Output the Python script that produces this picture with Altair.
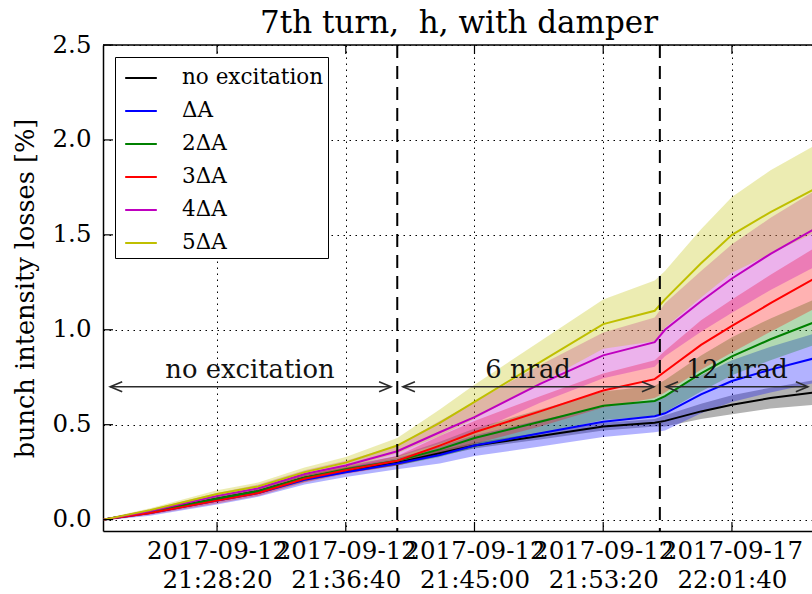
import altair as alt
import pandas as pd

# ---------------- data ----------------
chart_title = "7th turn,\u00a0 h, with damper"
DAY = "2017-09-12T"
times = ["21:21:00", "21:24:00", "21:28:20", "21:31:00", "21:34:00", "21:36:40", "21:40:00",
         "21:42:45", "21:45:00", "21:49:15", "21:53:20", "21:56:40",
         "21:57:20", "21:59:40", "22:01:40", "22:04:10", "22:07:00"]

series_names = ["no excitation", "ΔA", "2ΔA", "3ΔA", "4ΔA", "5ΔA"]
series_colors = ["#000000", "#0000ff", "#008000", "#ff0000", "#bf00bf", "#bfbf00"]

loss_none = [0.0, 0.04, 0.11, 0.15, 0.22, 0.26, 0.30, 0.35, 0.39, 0.44, 0.49, 0.51, 0.52, 0.57, 0.605, 0.64, 0.67]
loss_1 = [0.0, 0.035, 0.10, 0.14, 0.21, 0.25, 0.295, 0.34, 0.39, 0.455, 0.515, 0.545, 0.56, 0.66, 0.73, 0.79, 0.85]
loss_2 = [0.0, 0.04, 0.11, 0.15, 0.22, 0.265, 0.31, 0.37, 0.43, 0.515, 0.60, 0.625, 0.65, 0.77, 0.86, 0.95, 1.04]
loss_3 = [0.0, 0.035, 0.10, 0.14, 0.215, 0.26, 0.31, 0.39, 0.46, 0.57, 0.68, 0.74, 0.78, 0.92, 1.02, 1.14, 1.27]
loss_4 = [0.0, 0.045, 0.125, 0.165, 0.24, 0.285, 0.36, 0.46, 0.54, 0.715, 0.865, 0.935, 1.00, 1.15, 1.27, 1.40, 1.53]
loss_5 = [0.0, 0.05, 0.135, 0.175, 0.25, 0.30, 0.39, 0.51, 0.62, 0.83, 1.03, 1.10, 1.16, 1.35, 1.50, 1.62, 1.74]

err_none = [0.005, 0.01, 0.012, 0.015, 0.015, 0.015, 0.015, 0.015, 0.015, 0.018, 0.02, 0.02, 0.03, 0.04, 0.05, 0.055, 0.065]
err_1 = [0.005, 0.015, 0.02, 0.02, 0.025, 0.025, 0.03, 0.045, 0.055, 0.07, 0.08, 0.085, 0.09, 0.10, 0.11, 0.12, 0.13]
err_2 = [0.005, 0.01, 0.015, 0.015, 0.02, 0.02, 0.025, 0.04, 0.05, 0.065, 0.075, 0.08, 0.085, 0.095, 0.10, 0.11, 0.12]
err_3 = [0.005, 0.01, 0.015, 0.015, 0.02, 0.02, 0.025, 0.05, 0.06, 0.08, 0.09, 0.10, 0.11, 0.13, 0.14, 0.15, 0.16]
err_4 = [0.005, 0.01, 0.015, 0.02, 0.02, 0.025, 0.03, 0.06, 0.08, 0.10, 0.12, 0.13, 0.14, 0.16, 0.18, 0.19, 0.20]
err_5 = [0.005, 0.01, 0.02, 0.02, 0.025, 0.03, 0.04, 0.07, 0.09, 0.11, 0.13, 0.16, 0.15, 0.18, 0.20, 0.22, 0.23]

tick_clock = ["21:28:20", "21:36:40", "21:45:00", "21:53:20", "22:01:40"]
tick_dates = ["2017-09-12", "2017-09-12", "2017-09-12", "2017-09-12", "2017-09-17"]
y_ticks = [0.0, 0.5, 1.0, 1.5, 2.0, 2.5]

phase_change_times = ["21:40:00", "21:57:00"]
arrow_starts = ["21:21:25", "21:40:22", "21:57:24"]
arrow_ends = ["21:39:36", "21:56:37", "22:06:35"]
arrow_labels = ["no excitation", "6 nrad", "12 nrad"]
arrow_label_times = ["21:30:28", "21:48:28", "22:01:59"]
arrow_level = 0.7

x_start = "21:20:57"
x_end = "22:06:51"
y_min, y_max = -0.06, 2.5

# ---------------- tables ----------------
all_loss = [loss_none, loss_1, loss_2, loss_3, loss_4, loss_5]
all_err = [err_none, err_1, err_2, err_3, err_4, err_5]
rows = []
for name, vals, errs in zip(series_names, all_loss, all_err):
    for t, v, e in zip(times, vals, errs):
        rows.append({"series": name, "time": DAY + t + "Z", "loss": v,
                     "lo": v - e, "hi": v + e})
df = pd.DataFrame(rows)


def dt(clock):
    h, m, s = (int(p) for p in clock.split(":"))
    return alt.DateTime(year=2017, month=9, date=12, hours=h, minutes=m, seconds=s, utc=True)


W, H = 709, 486
SERIF = "DejaVu Serif"

xscale = alt.Scale(type="utc", domain=[dt(x_start), dt(x_end)], nice=False)
yscale = alt.Scale(domain=[y_min, y_max], nice=False, zero=False)

label_pairs = ",".join(f"['{d}','{c}']" for d, c in zip(tick_dates, tick_clock))
clock_list = ",".join(f"'{c}'" for c in tick_clock)
label_expr = f"[{label_pairs}][indexof([{clock_list}], utcFormat(datum.value, '%H:%M:%S'))]"

x_axis = alt.Axis(values=[dt(c) for c in tick_clock], labelExpr=label_expr, title=None,
                  grid=True, gridColor="#000000", gridDash=[1.5, 4.5], gridWidth=1,
                  ticks=False, labelFont=SERIF, labelFontSize=24.5, labelColor="black",
                  labelLineHeight=29, labelBaseline="top", labelPadding=8,
                  labelOverlap=False, labelFlush=False, labelBound=False,
                  domainColor="black", domainWidth=1.5)
y_axis = alt.Axis(values=y_ticks, format=".1f", title="bunch intensity losses [%]",
                  grid=True, gridColor="#000000", gridDash=[1.5, 4.5], gridWidth=1,
                  ticks=False, labelFont=SERIF, labelFontSize=24.5, labelColor="black",
                  labelPadding=12, domainColor="black", domainWidth=1.5,
                  titleFont=SERIF, titleFontSize=25.6, titleFontWeight="normal",
                  titleColor="black", titleAngle=270, titleX=-78, titleY=H / 2,
                  titleBaseline="middle", titleAlign="center")


def X(field):
    return alt.X(field, scale=xscale, axis=x_axis)


def Y(field):
    return alt.Y(field, scale=yscale, axis=y_axis)


color_scale = alt.Scale(domain=series_names, range=series_colors)

# one translucent band layer per series (fixed colour, no legend of its own)
band_layers = []
for name, col in zip(series_names, series_colors):
    band_layers.append(
        alt.Chart(df).transform_filter(alt.datum.series == name)
        .mark_area(color=col, opacity=0.3, clip=True)
        .encode(x=X("time:T"), y=Y("lo:Q"), y2="hi:Q")
    )

lines = alt.Chart(df).mark_line(strokeWidth=2, clip=True).encode(
    x=X("time:T"), y=Y("loss:Q"),
    color=alt.Color("series:N", scale=color_scale, sort=series_names,
                    legend=alt.Legend(title=None, orient="top-left", offset=12,
                                      symbolType="stroke", symbolSize=1000,
                                      symbolStrokeWidth=2, symbolOffset=5,
                                      labelFont=SERIF, labelFontSize=21.5,
                                      labelColor="black", rowPadding=5, padding=4,
                                      labelOffset=24, strokeColor="black",
                                      fillColor="white", cornerRadius=0)),
)

dash_df = pd.DataFrame({"time": [DAY + t + "Z" for t in phase_change_times]})
dashes = alt.Chart(dash_df).mark_rule(color="black", strokeWidth=2, strokeDash=[13, 8]).encode(
    x=X("time:T"))

arrow_df = pd.DataFrame({"start": [DAY + t + "Z" for t in arrow_starts],
                         "end": [DAY + t + "Z" for t in arrow_ends],
                         "mid": [DAY + t + "Z" for t in arrow_label_times],
                         "label": arrow_labels,
                         "level": [arrow_level] * len(arrow_labels)})
ARROW_COLOR = "#2b2b2b"
arrow_lines = alt.Chart(arrow_df).mark_rule(color=ARROW_COLOR, strokeWidth=1.6).encode(
    x=X("start:T"), x2="end:T", y=Y("level:Q"))
heads_right = alt.Chart(arrow_df).mark_point(
    shape="M-1,-0.42L0,0L-1,0.42", filled=False, size=576, strokeWidth=1.6,
    color=ARROW_COLOR, opacity=1).encode(x=X("end:T"), y=Y("level:Q"))
heads_left = alt.Chart(arrow_df).mark_point(
    shape="M1,-0.42L0,0L1,0.42", filled=False, size=576, strokeWidth=1.6,
    color=ARROW_COLOR, opacity=1).encode(x=X("start:T"), y=Y("level:Q"))
arrow_text = alt.Chart(arrow_df).mark_text(
    font=SERIF, fontSize=25.8, color="#111111", baseline="alphabetic", dy=-9).encode(
    x=X("mid:T"), y=Y("level:Q"), text="label:N")

# inward tick marks and the top frame line (matplotlib classic style)
xt_df = pd.DataFrame({"time": [DAY + c + "Z" for c in tick_clock]})
xticks_bottom = alt.Chart(xt_df).mark_rule(color="black", strokeWidth=1.2).encode(
    x=X("time:T"), y=alt.value(H), y2=alt.value(H - 9))
xticks_top = alt.Chart(xt_df).mark_rule(color="black", strokeWidth=1.2).encode(
    x=X("time:T"), y=alt.value(0), y2=alt.value(9))
yt_df = pd.DataFrame({"v": y_ticks})
yticks_left = alt.Chart(yt_df).mark_rule(color="black", strokeWidth=1.2).encode(
    y=Y("v:Q"), x=alt.value(0), x2=alt.value(10))
top_frame = alt.Chart(pd.DataFrame({"k": [0]})).mark_rule(color="black", strokeWidth=1.5).encode(
    x=alt.value(0), x2=alt.value(W), y=alt.value(0))

# chart title, drawn as a text mark centred above the plot
title_text = alt.Chart(pd.DataFrame({"t": [chart_title]})).mark_text(
    font=SERIF, fontSize=31, color="black", align="center", baseline="alphabetic").encode(
    x=alt.value(356), y=alt.value(-12), text="t:N")

chart = alt.layer(
    *band_layers, lines, dashes, arrow_lines, heads_right, heads_left, arrow_text,
    xticks_bottom, xticks_top, yticks_left, top_frame, title_text,
).properties(
    width=W, height=H,
    background="white",
    padding={"left": 103, "top": 45, "right": 0, "bottom": 63},
    autosize=alt.AutoSizeParams(type="none"),
).configure_view(stroke=None)

chart.save("out.html", embed_options={"renderer": "svg", "actions": False})
